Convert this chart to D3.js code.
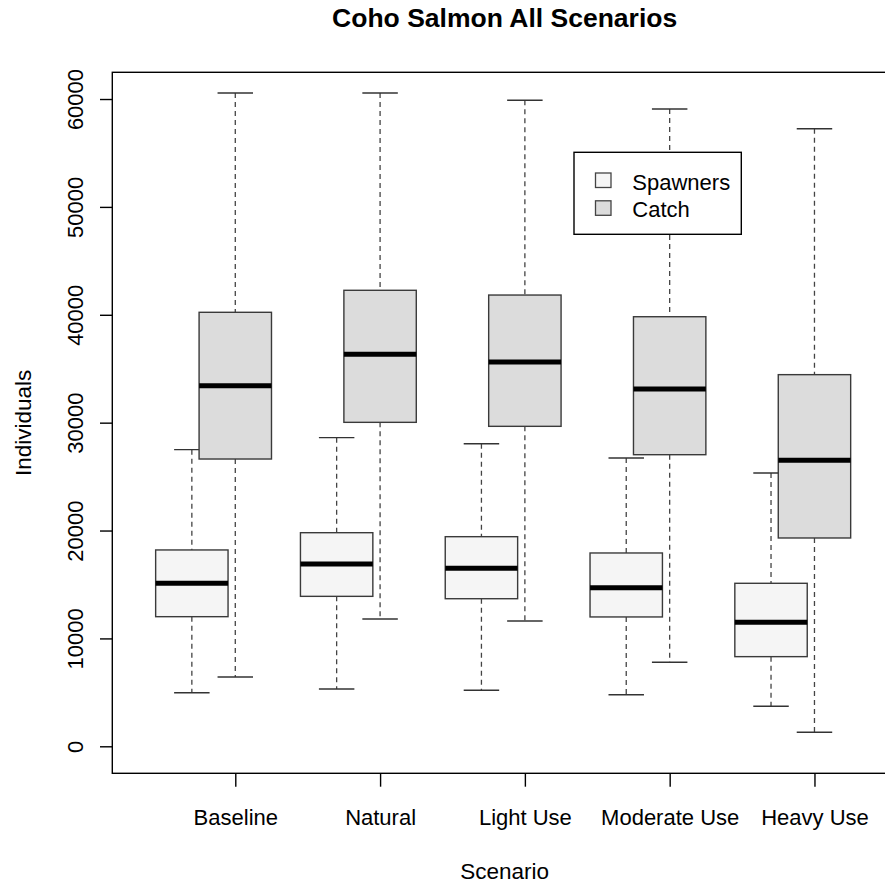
<!DOCTYPE html>
<html>
<head>
<meta charset="utf-8">
<script src="https://cdn.jsdelivr.net/npm/d3@7"></script>
<style>
  html, body { margin: 0; padding: 0; background: #fff; }
  svg { display: block; }
  text { font-family: "Liberation Sans", Arial, sans-serif; fill: #000; }
</style>
</head>
<body>
<svg id="chart" width="885" height="886"></svg>
<script>
// Scenario names (x-axis categories)
const scenarios = ["Baseline", "Natural", "Light Use", "Moderate Use", "Heavy Use"];

// Spawners: five-number summaries per scenario
const spawnMin    = [4970, 5310, 5190, 4780, 3710];
const spawnQ1     = [12015, 13900, 13680, 11990, 8310];
const spawnMedian = [15110, 16900, 16500, 14700, 11490];
const spawnQ3     = [18200, 19800, 19430, 17920, 15110];
const spawnMax    = [27500, 28610, 28050, 26720, 25330];

// Catch: five-number summaries per scenario
const catchMin    = [6420, 11800, 11620, 7790, 1300];
const catchQ1     = [26630, 30030, 29660, 27030, 19310];
const catchMedian = [33430, 36340, 35620, 33120, 26510];
const catchQ3     = [40230, 42270, 41830, 39820, 34450];
const catchMax    = [60560, 60560, 59880, 59080, 57250];

// Y tick values
const yTicks = [0, 10000, 20000, 30000, 40000, 50000, 60000];

const seriesNames = ["Spawners", "Catch"];
const seriesFill = ["#f5f5f5", "#dcdcdc"];
const seriesOffset = [-0.3, 0];

const svg = d3.select("#chart");
const plot = { left: 112.3, top: 72.3, right: 897, bottom: 773.3 };

const x = d3.scaleLinear().domain([0.1506, 5.57]).range([plot.left, plot.right]);
const y = d3.scaleLinear().domain([-2503, 62477]).range([plot.bottom, plot.top]);

const unit = x(1) - x(0);
const boxW = 0.5 * unit;
const capW = 0.245 * unit;

// build box records from the arrays
const boxes = [];
scenarios.forEach((s, i) => {
  boxes.push({ pos: i + 1 + seriesOffset[0], s: 0, min: spawnMin[i], q1: spawnQ1[i], med: spawnMedian[i], q3: spawnQ3[i], max: spawnMax[i] });
  boxes.push({ pos: i + 1 + seriesOffset[1], s: 1, min: catchMin[i], q1: catchQ1[i], med: catchMedian[i], q3: catchQ3[i], max: catchMax[i] });
});

const g = svg.append("g");
const bx = g.selectAll("g.box").data(boxes).join("g").attr("class", "box");

// dashed whiskers
bx.append("line")
  .attr("x1", d => x(d.pos)).attr("x2", d => x(d.pos))
  .attr("y1", d => y(d.max)).attr("y2", d => y(d.q3))
  .attr("stroke", "#444").attr("stroke-width", 1.3).attr("stroke-dasharray", "5,4");
bx.append("line")
  .attr("x1", d => x(d.pos)).attr("x2", d => x(d.pos))
  .attr("y1", d => y(d.q1)).attr("y2", d => y(d.min))
  .attr("stroke", "#444").attr("stroke-width", 1.3).attr("stroke-dasharray", "5,4");

// staples
["min", "max"].forEach(k => {
  bx.append("line")
    .attr("x1", d => x(d.pos) - capW / 2).attr("x2", d => x(d.pos) + capW / 2)
    .attr("y1", d => y(d[k])).attr("y2", d => y(d[k]))
    .attr("stroke", "#333").attr("stroke-width", 1.4);
});

// boxes
bx.append("rect")
  .attr("x", d => x(d.pos) - boxW / 2)
  .attr("y", d => y(d.q3))
  .attr("width", boxW)
  .attr("height", d => y(d.q1) - y(d.q3))
  .attr("fill", d => seriesFill[d.s])
  .attr("stroke", "#3a3a3a").attr("stroke-width", 1.4);

// medians
bx.append("line")
  .attr("x1", d => x(d.pos) - boxW / 2).attr("x2", d => x(d.pos) + boxW / 2)
  .attr("y1", d => y(d.med)).attr("y2", d => y(d.med))
  .attr("stroke", "#000").attr("stroke-width", 5);

// plot frame
svg.append("rect")
  .attr("x", plot.left).attr("y", plot.top)
  .attr("width", plot.right - plot.left).attr("height", plot.bottom - plot.top)
  .attr("fill", "none").attr("stroke", "#000").attr("stroke-width", 1.4);

// y axis
const yAxis = svg.append("g")
  .attr("transform", `translate(${plot.left},0)`)
  .call(d3.axisLeft(y).tickValues(yTicks).tickSize(12.3).tickFormat(d3.format("d")));
yAxis.select(".domain").remove();
yAxis.selectAll(".tick line").attr("stroke", "#000").attr("stroke-width", 1.4);
yAxis.selectAll(".tick text")
  .attr("x", 0).attr("y", 0).attr("dy", null)
  .attr("transform", "translate(-29,0) rotate(-90)")
  .attr("text-anchor", "middle")
  .attr("font-size", 22)
  .attr("font-family", "Liberation Sans, Arial, sans-serif")
  .style("fill", "#000");

// x axis
const xAxis = svg.append("g")
  .attr("transform", `translate(0,${plot.bottom})`)
  .call(d3.axisBottom(x).tickValues(scenarios.map((s, i) => i + 1)).tickSize(13.4)
    .tickFormat((d, i) => scenarios[i]));
xAxis.select(".domain").remove();
xAxis.selectAll(".tick line").attr("stroke", "#000").attr("stroke-width", 1.4);
xAxis.selectAll(".tick text")
  .attr("y", 52).attr("dy", null)
  .attr("font-size", 22)
  .attr("font-family", "Liberation Sans, Arial, sans-serif")
  .style("fill", "#000");

// titles
svg.append("text")
  .attr("x", (plot.left + plot.right) / 2).attr("y", 27)
  .attr("text-anchor", "middle").attr("font-size", 26.5).attr("font-weight", "bold")
  .text("Coho Salmon All Scenarios");
svg.append("text")
  .attr("x", (plot.left + plot.right) / 2).attr("y", 879)
  .attr("text-anchor", "middle").attr("font-size", 22.5)
  .text("Scenario");
svg.append("text")
  .attr("transform", `translate(31,${(plot.top + plot.bottom) / 2}) rotate(-90)`)
  .attr("text-anchor", "middle").attr("font-size", 22.5)
  .text("Individuals");

// legend
const lg = svg.append("g");
lg.append("rect")
  .attr("x", 574).attr("y", 152.3).attr("width", 167.3).attr("height", 82)
  .attr("fill", "#fff").attr("stroke", "#000").attr("stroke-width", 1.4);
seriesNames.forEach((n, i) => {
  lg.append("rect")
    .attr("x", 595.5).attr("y", 173 + i * 27.8).attr("width", 15.5).attr("height", 14.5)
    .attr("fill", seriesFill[i]).attr("stroke", "#444").attr("stroke-width", 1.3);
  lg.append("text")
    .attr("x", 632.3).attr("y", 190 + i * 27.3)
    .attr("font-size", 22)
    .text(n);
});
</script>
</body>
</html>
